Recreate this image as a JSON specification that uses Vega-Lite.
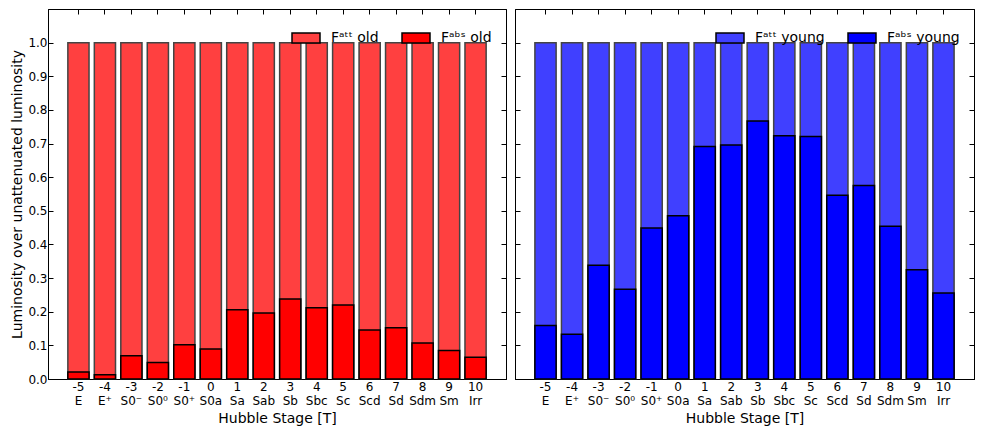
{
  "$schema": "https://vega.github.io/schema/vega-lite/v6.json",
  "padding": {"left": 10, "top": 8, "right": 8, "bottom": 4},
  "config": {
    "font": "DejaVu Sans",
    "view": {"stroke": "black", "strokeWidth": 1},
    "axis": {
      "grid": false, "domainColor": "black", "tickColor": "black", "labelColor": "black", "titleColor": "black",
      "labelFont": "DejaVu Sans", "titleFont": "DejaVu Sans", "labelFontSize": 12, "titleFontSize": 14,
      "titleFontWeight": "normal", "tickSize": -5, "labelPadding": 7, "titlePadding": 5, "labelLineHeight": 14
    },
    "axisLeft": {"labelPadding": 6, "titlePadding": 3},
    "legend": {
      "orient": "top-right", "direction": "horizontal", "offset": 14, "title": null,
      "symbolType": "M-1,-0.357H1V0.357H-1Z", "symbolSize": 784, "symbolStrokeColor": "black",
      "symbolStrokeWidth": 1.5, "symbolOpacity": 1, "labelFontSize": 14, "labelFont": "DejaVu Sans",
      "labelOffset": 10, "columnPadding": 20, "padding": 0, "labelColor": "black"
    }
  },
  "datasets": {
    "old": [
      {"stage": "-5|E", "att": 1, "abs": 0.021},
      {"stage": "-4|E⁺", "att": 1, "abs": 0.013},
      {"stage": "-3|S0⁻", "att": 1, "abs": 0.069},
      {"stage": "-2|S0⁰", "att": 1, "abs": 0.049},
      {"stage": "-1|S0⁺", "att": 1, "abs": 0.102},
      {"stage": "0|S0a", "att": 1, "abs": 0.089},
      {"stage": "1|Sa", "att": 1, "abs": 0.206},
      {"stage": "2|Sab", "att": 1, "abs": 0.196},
      {"stage": "3|Sb", "att": 1, "abs": 0.238},
      {"stage": "4|Sbc", "att": 1, "abs": 0.212},
      {"stage": "5|Sc", "att": 1, "abs": 0.22},
      {"stage": "6|Scd", "att": 1, "abs": 0.146},
      {"stage": "7|Sd", "att": 1, "abs": 0.152},
      {"stage": "8|Sdm", "att": 1, "abs": 0.107},
      {"stage": "9|Sm", "att": 1, "abs": 0.085},
      {"stage": "10|Irr", "att": 1, "abs": 0.065}
    ],
    "young": [
      {"stage": "-5|E", "att": 1, "abs": 0.159},
      {"stage": "-4|E⁺", "att": 1, "abs": 0.133},
      {"stage": "-3|S0⁻", "att": 1, "abs": 0.338},
      {"stage": "-2|S0⁰", "att": 1, "abs": 0.267},
      {"stage": "-1|S0⁺", "att": 1, "abs": 0.449},
      {"stage": "0|S0a", "att": 1, "abs": 0.485},
      {"stage": "1|Sa", "att": 1, "abs": 0.691},
      {"stage": "2|Sab", "att": 1, "abs": 0.696},
      {"stage": "3|Sb", "att": 1, "abs": 0.767},
      {"stage": "4|Sbc", "att": 1, "abs": 0.723},
      {"stage": "5|Sc", "att": 1, "abs": 0.721},
      {"stage": "6|Scd", "att": 1, "abs": 0.546},
      {"stage": "7|Sd", "att": 1, "abs": 0.575},
      {"stage": "8|Sdm", "att": 1, "abs": 0.454},
      {"stage": "9|Sm", "att": 1, "abs": 0.325},
      {"stage": "10|Irr", "att": 1, "abs": 0.256}
    ]
  },
  "spacing": 7,
  "resolve": {"scale": {"color": "independent"}},
  "hconcat": [
    {
      "width": 458, "height": 370,
      "data": {"name": "old"},
      "layer": [
        {
          "mark": {"type": "bar", "stroke": "#444444", "strokeWidth": 1.5},
          "encoding": {
            "x": {"field": "stage", "type": "nominal", "sort": null,
                  "scale": {"paddingInner": 0.2, "paddingOuter": 0.75},
                  "axis": {"orient": "bottom", "labelExpr": "split(datum.value, '|')", "labelAngle": 0, "title": "Hubble Stage [T]"}},
            "y": {"field": "att", "type": "quantitative", "scale": {"domain": [0, 1.1], "nice": false},
                  "axis": {"orient": "left", "values": [0, 0.1, 0.2, 0.3, 0.4, 0.5, 0.6, 0.7, 0.8, 0.9, 1.0], "format": ".1f", "title": "Luminosity over unattenuated luminosity"}},
            "color": {"datum": "Fᵃᵗᵗ old", "type": "nominal",
                      "scale": {"domain": ["Fᵃᵗᵗ old", "Fᵃᵇˢ old"], "range": ["#ff4040", "#ff0000"]}}
          }
        },
        {
          "mark": {"type": "bar", "stroke": "black", "strokeWidth": 1.5},
          "encoding": {
            "x": {"field": "stage", "type": "nominal", "sort": null,
                  "axis": {"orient": "top", "labels": false, "title": null}},
            "y": {"field": "abs", "type": "quantitative",
                  "axis": {"orient": "right", "labels": false, "title": null, "values": [0, 0.1, 0.2, 0.3, 0.4, 0.5, 0.6, 0.7, 0.8, 0.9, 1.0]}},
            "color": {"datum": "Fᵃᵇˢ old", "type": "nominal"}
          }
        }
      ],
      "resolve": {"axis": {"x": "independent", "y": "independent"}}
    },
    {
      "width": 459, "height": 370,
      "data": {"name": "young"},
      "layer": [
        {
          "mark": {"type": "bar", "stroke": "#444444", "strokeWidth": 1.5},
          "encoding": {
            "x": {"field": "stage", "type": "nominal", "sort": null,
                  "scale": {"paddingInner": 0.2, "paddingOuter": 0.75},
                  "axis": {"orient": "bottom", "labelExpr": "split(datum.value, '|')", "labelAngle": 0, "title": "Hubble Stage [T]"}},
            "y": {"field": "att", "type": "quantitative", "scale": {"domain": [0, 1.1], "nice": false},
                  "axis": {"orient": "left", "labels": false, "title": null, "values": [0, 0.1, 0.2, 0.3, 0.4, 0.5, 0.6, 0.7, 0.8, 0.9, 1.0]}},
            "color": {"datum": "Fᵃᵗᵗ young", "type": "nominal",
                      "scale": {"domain": ["Fᵃᵗᵗ young", "Fᵃᵇˢ young"], "range": ["#4040ff", "#0000ff"]}}
          }
        },
        {
          "mark": {"type": "bar", "stroke": "black", "strokeWidth": 1.5},
          "encoding": {
            "x": {"field": "stage", "type": "nominal", "sort": null,
                  "axis": {"orient": "top", "labels": false, "title": null}},
            "y": {"field": "abs", "type": "quantitative",
                  "axis": {"orient": "right", "labels": false, "title": null, "values": [0, 0.1, 0.2, 0.3, 0.4, 0.5, 0.6, 0.7, 0.8, 0.9, 1.0]}},
            "color": {"datum": "Fᵃᵇˢ young", "type": "nominal"}
          }
        }
      ],
      "resolve": {"axis": {"x": "independent", "y": "independent"}}
    }
  ]
}
